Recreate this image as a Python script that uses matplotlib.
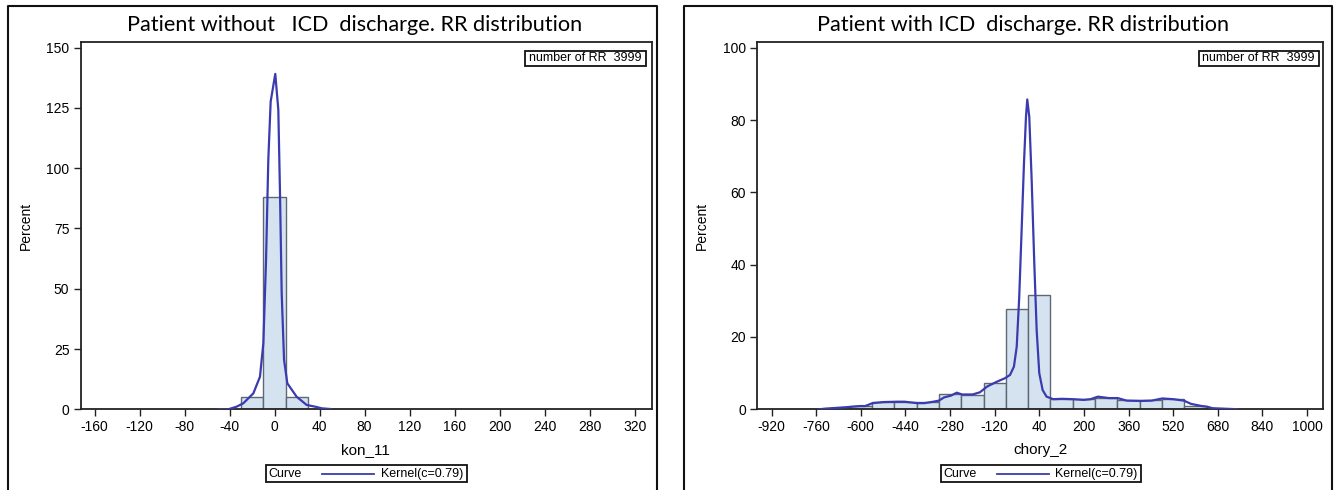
import matplotlib
matplotlib.use("Agg")
import matplotlib.pyplot as plt
from matplotlib.patches import Rectangle
from matplotlib.lines import Line2D

# ---------------- data ----------------
# Left panel: patient without ICD discharge (variable kon_11)
left_bin_edges = [-30, -10, 10, 30]
left_percent = [5.0, 88.0, 5.0]
left_kde_x = [-50, -41.2, -33.7, -27.8, -18.9, -13.0, -10.0, -7.6, -5.6, -3.5,
              0.6, 3.3, 4.8, 6.3, 8.4, 11.3, 19.6, 28.5, 35.9, 42.0, 50.0]
left_kde_y = [0.0, 0.0, 1.1, 2.5, 6.6, 13.5, 27.4, 62.0, 103.4, 127.6,
              139.1, 124.2, 89.6, 48.1, 20.5, 10.8, 5.2, 1.8, 1.1, 0.4, 0.1]
left_xticks = [-160, -120, -80, -40, 0, 40, 80, 120, 160, 200, 240, 280, 320]
left_xticklabels = ["-160", "-120", "-80", "-40", "0", "40", "80", "120",
                    "160", "200", "240", "280", "320"]
left_yticks = [0, 25, 50, 75, 100, 125, 150]
left_yticklabels = ["0", "25", "50", "75", "100", "125", "150"]

# Right panel: patient with ICD discharge (variable chory_2)
right_bin_edges = [-720, -640, -560, -480, -400, -320, -240, -160, -80, 0,
                   80, 160, 240, 320, 400, 480, 560, 640]
right_percent = [0.2, 0.8, 2.0, 2.0, 1.9, 4.3, 4.0, 7.2, 27.7, 31.6,
                 2.8, 2.8, 3.2, 2.5, 2.5, 2.8, 0.8]
right_kde_x = [-750, -725, -648, -603, -584, -558, -519, -468, -443, -398,
               -372, -340, -320, -301, -276, -256, -237, -199, -173, -147,
               -113, -83, -65, -51, -41, -32, -23.4, -15, -7.8, -3.2,
               4, 12.6, 22, 30.5, 39.8, 52, 66, 90, 122, 160,
               199, 224, 250, 289, 321, 353, 404, 443, 481, 520,
               558, 584, 622, 642, 661, 725, 750]
right_kde_y = [0.0, 0.2, 0.6, 0.9, 0.9, 1.7, 2.0, 2.1, 2.1, 1.7,
               1.7, 2.1, 2.4, 3.3, 3.8, 4.6, 4.1, 4.1, 4.7, 6.3,
               7.6, 8.6, 9.5, 11.8, 17.3, 31.1, 49.6, 68.0, 80.9, 85.7,
               80.9, 63.4, 40.4, 21.9, 10.0, 5.3, 3.5, 2.8, 2.9, 2.8,
               2.6, 2.8, 3.5, 3.1, 3.1, 2.4, 2.3, 2.4, 3.0, 2.8,
               2.4, 1.5, 0.9, 0.7, 0.3, 0.1, 0.0]
right_xticks = [-920, -760, -600, -440, -280, -120, 40, 200, 360, 520, 680, 840, 1000]
right_xticklabels = ["-920", "-760", "-600", "-440", "-280", "-120", "40", "200",
                     "360", "520", "680", "840", "1000"]
right_yticks = [0, 20, 40, 60, 80, 100]
right_yticklabels = ["0", "20", "40", "60", "80", "100"]

titles = ["Patient without   ICD  discharge. RR distribution",
          "Patient with ICD  discharge. RR distribution"]
xlabels = ["kon_11", "chory_2"]
inset_text = "number of RR  3999"
legend_title = "Curve"
legend_entry = "Kernel(c=0.79)"

# ---------------- style ----------------
W, H = 1336, 490
BAR_FILL = "#d5e3f1"
BAR_EDGE = "#5d6872"
CURVE = "#3b3bb0"
FRAME = "#222222"
NARROW = ["Liberation Sans Narrow", "Liberation Sans", "DejaVu Sans"]
TITLE_FONT = ["Lato", "DejaVu Sans"]


def fx(px):
    return px / W


def fy(py):
    return 1 - py / H


fig = plt.figure(figsize=(W / 100, H / 100), dpi=100)
fig.patch.set_facecolor("white")

panels = [
    dict(edges=left_bin_edges, pct=left_percent, kx=left_kde_x, ky=left_kde_y,
         xt=left_xticks, xtl=left_xticklabels, yt=left_yticks, ytl=left_yticklabels,
         xlim=(-172.5, 335.4), ylim=(0, 152.2),
         ax_px=(80.5, 42.3, 652.0, 409.3), border=(7.7, 6.0, 657.4),
         title_x=355, ylab_x=25.7, xlab_x=365,
         legend_box=(265.5, 465.0, 466.8, 482.0), inset_box=(524.6, 50.7, 645.8, 66.0)),
    dict(edges=right_bin_edges, pct=right_percent, kx=right_kde_x, ky=right_kde_y,
         xt=right_xticks, xtl=right_xticklabels, yt=right_yticks, ytl=right_yticklabels,
         xlim=(-972, 1058), ylim=(0, 101.5),
         ax_px=(757.0, 42.3, 1323.3, 409.3), border=(684.3, 5.7, 1331.5),
         title_x=1022.7, ylab_x=702, xlab_x=1040,
         legend_box=(940.7, 465.0, 1141.0, 482.0), inset_box=(1198.5, 50.7, 1319.0, 66.0)),
]

for i, p in enumerate(panels):
    x0, y0, x1, y1 = p["ax_px"]
    ax = fig.add_axes([fx(x0), fy(y1), (x1 - x0) / W, (y1 - y0) / H])

    widths = [b - a for a, b in zip(p["edges"][:-1], p["edges"][1:])]
    ax.bar(p["edges"][:-1], p["pct"], width=widths, align="edge",
           color=BAR_FILL, edgecolor=BAR_EDGE, linewidth=1.0, zorder=2)
    ax.plot(p["kx"], p["ky"], color=CURVE, linewidth=1.6, zorder=3)

    ax.set_xlim(*p["xlim"])
    ax.set_ylim(*p["ylim"])
    ax.set_xticks(p["xt"])
    ax.set_xticklabels(p["xtl"], family=NARROW, fontsize=10)
    ax.set_yticks(p["yt"])
    ax.set_yticklabels(p["ytl"], family=NARROW, fontsize=10)
    ax.tick_params(direction="out", length=5, width=1.0, color=FRAME, pad=3)
    for s in ax.spines.values():
        s.set_color(FRAME)
        s.set_linewidth(1.3)

    # outer panel border (open at the bottom edge of the figure)
    bx0, by0, bx1 = p["border"]
    fig.add_artist(Line2D([fx(bx0), fx(bx0), fx(bx1), fx(bx1)],
                          [fy(H + 5), fy(by0), fy(by0), fy(H + 5)],
                          color="#111111", linewidth=1.5))

    fig.text(fx(p["title_x"]), fy(25), titles[i], family=TITLE_FONT,
             fontsize=15.6, ha="center", va="center", color="black")
    fig.text(fx(p["ylab_x"]), fy(226), "Percent", family=NARROW, fontsize=10,
             rotation=90, ha="center", va="center")
    fig.text(fx(p["xlab_x"]), fy(450), xlabels[i], family=NARROW, fontsize=11,
             ha="center", va="center")

    # inset box with the count of RR intervals
    ix0, iy0, ix1, iy1 = p["inset_box"]
    fig.add_artist(Rectangle((fx(ix0), fy(iy1)), (ix1 - ix0) / W, (iy1 - iy0) / H,
                             facecolor="white", edgecolor="#111111", linewidth=1.3))
    fig.text(fx((ix0 + ix1) / 2), fy((iy0 + iy1) / 2), inset_text, family=NARROW,
             fontsize=9, ha="center", va="center")

    # legend strip under the x axis label
    lx0, ly0, lx1, ly1 = p["legend_box"]
    fig.add_artist(Rectangle((fx(lx0), fy(ly1)), (lx1 - lx0) / W, (ly1 - ly0) / H,
                             facecolor="white", edgecolor="#111111", linewidth=1.3))
    ly = (ly0 + ly1) / 2
    fig.text(fx(lx0 + 3), fy(ly), legend_title, family=NARROW, fontsize=9,
             ha="left", va="center")
    fig.add_artist(Line2D([fx(lx0 + 56), fx(lx0 + 108)], [fy(ly), fy(ly)],
                          color=CURVE, linewidth=1.3))
    fig.text(fx(lx1 - 4), fy(ly), legend_entry, family=NARROW, fontsize=9,
             ha="right", va="center")

fig.savefig("out.png", dpi=100, facecolor="white")
